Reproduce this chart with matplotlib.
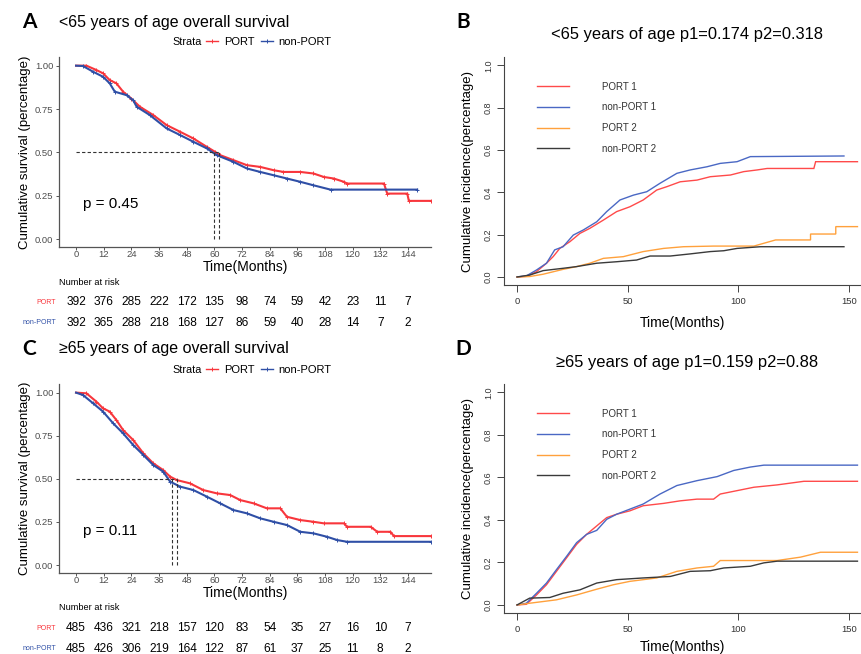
import numpy as np
import matplotlib.pyplot as plt
from matplotlib.lines import Line2D

plt.rcParams['font.family'] = ['Liberation Sans', 'DejaVu Sans']

# ---- panel A: <65 overall survival (Kaplan-Meier) ----
a_port_t = [0, 4.5, 8.8, 11.7, 14.6, 17.5, 20.4, 24, 27.7, 33.5, 39.3, 45.1, 50.9, 56.7, 60.3, 62.5,
            68.3, 74.1, 79.9, 85.7, 90, 97.3, 103, 107.5, 111.8, 116.2, 117.6, 133.6, 135, 143.7, 144.4, 154]
a_port_s = [1.0, 1.0, 0.975, 0.956, 0.917, 0.898, 0.85, 0.81, 0.763, 0.715, 0.657, 0.619, 0.58, 0.532, 0.503, 0.484,
            0.455, 0.426, 0.416, 0.397, 0.387, 0.387, 0.378, 0.358, 0.349, 0.33, 0.32, 0.32, 0.262, 0.262, 0.22, 0.22]
a_non_t = [0, 3, 7.4, 11.7, 14.6, 16.8, 21.9, 24.8, 26.3, 32, 39.3, 45.1, 50.9, 56.7, 61, 68.3,
           74.1, 79.9, 85.7, 91.5, 97.3, 103, 110.4, 148]
a_non_s = [1.0, 0.998, 0.965, 0.936, 0.898, 0.85, 0.83, 0.80, 0.763, 0.715, 0.638, 0.6, 0.561, 0.523, 0.484, 0.445,
           0.407, 0.387, 0.368, 0.349, 0.33, 0.31, 0.285, 0.285]
a_medians = [60, 62]
a_pval = "p = 0.45"
a_risk_port = [392, 376, 285, 222, 172, 135, 98, 74, 59, 42, 23, 11, 7]
a_risk_non = [392, 365, 288, 218, 168, 127, 86, 59, 40, 28, 14, 7, 2]

# ---- panel C: >=65 overall survival ----
c_port_t = [0, 4.5, 8.8, 11.7, 14.6, 17.5, 20.4, 24.8, 29.2, 33.5, 37.8, 40.8, 43.7, 49.4, 55.2, 61,
            66.9, 71.2, 77, 82.8, 88.6, 91.5, 97.3, 103, 107.5, 116.2, 117.6, 127.8, 130.7, 136.4, 137.9, 154]
c_port_s = [1.0, 0.996, 0.948, 0.909, 0.89, 0.841, 0.783, 0.725, 0.648, 0.59, 0.551, 0.513, 0.493, 0.474, 0.435, 0.416,
            0.406, 0.377, 0.358, 0.329, 0.329, 0.28, 0.261, 0.251, 0.242, 0.242, 0.222, 0.222, 0.193, 0.193, 0.168, 0.168]
c_non_t = [0, 3, 7.4, 11.7, 16.1, 20.4, 24.8, 29.2, 33.5, 37.8, 40.8, 45.1, 50.9, 56.7, 62.5, 68.3,
           74.1, 79.9, 85.7, 91.5, 97.3, 103, 108.9, 113.3, 117.6, 154]
c_non_s = [1.0, 0.986, 0.938, 0.89, 0.822, 0.764, 0.696, 0.638, 0.58, 0.542, 0.484, 0.455, 0.435, 0.397, 0.358, 0.319,
           0.3, 0.271, 0.251, 0.232, 0.193, 0.184, 0.164, 0.145, 0.135, 0.135]
c_medians = [41.5, 44]
c_pval = "p = 0.11"
c_risk_port = [485, 436, 321, 218, 157, 120, 83, 54, 35, 27, 16, 10, 7]
c_risk_non = [485, 426, 306, 219, 164, 122, 87, 61, 37, 25, 11, 8, 2]

risk_times = [0, 12, 24, 36, 48, 60, 72, 84, 96, 108, 120, 132, 144]

# ---- panel B: <65 cumulative incidence ----
b_port1_t = [0, 4.2, 8.8, 13.3, 16.3, 19.3, 23.9, 28.4, 32.9, 39, 45, 51, 57, 63.1, 67.7, 73.7, 81.3,
             87.3, 96.4, 102.4, 108.5, 113, 134.1, 134.9, 153.8]
b_port1_v = [0, 0.003, 0.025, 0.065, 0.096, 0.135, 0.167, 0.206, 0.23, 0.269, 0.309, 0.332, 0.364, 0.411, 0.427,
             0.45, 0.458, 0.474, 0.482, 0.498, 0.506, 0.513, 0.513, 0.545, 0.545]
b_non1_t = [0, 4.2, 8.8, 13.3, 17, 20.8, 25.4, 29.9, 36, 40.5, 46.5, 52.6, 58.6, 64.6, 72.2, 78.2, 85.8,
            91.8, 99.4, 105.4, 147.7]
b_non1_v = [0, 0.005, 0.033, 0.065, 0.128, 0.143, 0.198, 0.222, 0.261, 0.309, 0.364, 0.387, 0.403, 0.443, 0.49,
            0.506, 0.521, 0.537, 0.545, 0.569, 0.572]
b_port2_t = [0, 5.7, 11.8, 20.8, 26.9, 32.9, 39, 48, 57, 66.2, 75.2, 88.8, 107, 116.8, 132.6, 132.6, 144, 144, 153.8]
b_port2_v = [0, 0.002, 0.013, 0.036, 0.049, 0.065, 0.088, 0.096, 0.12, 0.135, 0.143, 0.146, 0.146, 0.175, 0.175,
             0.203, 0.203, 0.238, 0.238]
b_non2_t = [0, 5.7, 11.8, 20.8, 26.9, 36, 45, 54, 60.1, 69.2, 78.2, 87.3, 93.4, 99.4, 110, 147.7]
b_non2_v = [0, 0.009, 0.03, 0.041, 0.049, 0.065, 0.072, 0.08, 0.099, 0.099, 0.109, 0.12, 0.124, 0.135, 0.143, 0.143]

# ---- panel D: >=65 cumulative incidence ----
d_port1_t = [0, 4.2, 8.8, 13.3, 17.8, 22.4, 26.9, 31.4, 36, 40.5, 45, 51, 57, 66.2, 73.7, 81.3, 88.8,
             91.8, 99.4, 107, 117.5, 129.6, 153.8]
d_port1_v = [0, 0.003, 0.047, 0.095, 0.158, 0.222, 0.285, 0.332, 0.372, 0.411, 0.427, 0.443, 0.467, 0.478, 0.49,
             0.498, 0.498, 0.522, 0.538, 0.554, 0.565, 0.582, 0.582]
d_non1_t = [0, 4.2, 8.8, 13.3, 17.8, 22.4, 26.9, 31.4, 36, 40.5, 45, 51, 57, 64.6, 72.2, 81.3, 90.4,
            97.9, 105.4, 111.5, 153.8]
d_non1_v = [0, 0.008, 0.055, 0.103, 0.166, 0.229, 0.293, 0.332, 0.351, 0.403, 0.427, 0.451, 0.475, 0.522, 0.562,
            0.585, 0.604, 0.633, 0.649, 0.658, 0.658]
d_port2_t = [0, 5.7, 17.8, 26.9, 36, 43.5, 51, 63.1, 72.2, 81.3, 88.8, 91.8, 117.5, 128.1, 137.1, 153.8]
d_port2_v = [0, 0.008, 0.024, 0.047, 0.074, 0.095, 0.111, 0.127, 0.158, 0.174, 0.182, 0.209, 0.209, 0.225, 0.248,
             0.248]
d_non2_t = [0, 5.7, 14.8, 20.8, 28.4, 36, 45, 57, 69.2, 78.2, 87.3, 93.4, 105.4, 111.5, 117.5, 153.8]
d_non2_v = [0, 0.032, 0.035, 0.055, 0.071, 0.103, 0.119, 0.127, 0.134, 0.158, 0.161, 0.174, 0.182, 0.198, 0.206,
            0.206]

RED = "#F8363C"
BLUE = "#2F4FA6"
CI_COLORS = ["#FF4A4A", "#4A68C4", "#FFA13C", "#3A3A3A"]
CI_LABELS = ["PORT 1", "non-PORT 1", "PORT 2", "non-PORT 2"]

W, H = 861, 654
fig = plt.figure(figsize=(W / 100, H / 100), dpi=100)


def px_axes(left, top, right, bottom):
    return fig.add_axes([left / W, 1 - bottom / H, (right - left) / W, (bottom - top) / H])


def fx(x):
    return x / W


def fy(y):
    return 1 - y / H


def km_panel(top, bottom, letter, title, port, non, medians, pval, risk_port, risk_non, legend_y, risk_y):
    ax = px_axes(59, top, 431, bottom)
    for (t, s), col in zip([port, non], [RED, BLUE]):
        ax.plot(t, s, color=col, lw=1.5, marker="+", ms=3.5, mew=0.7,
                markevery=slice(1, None), solid_joinstyle="miter")
    ax.plot([0, max(medians)], [0.5, 0.5], ls=(0, (3, 2)), color="#333333", lw=0.8)
    for m in medians:
        ax.plot([m, m], [0, 0.5], ls=(0, (3, 2)), color="#333333", lw=0.8)
    ax.set_xlim(-7.4, 154)
    ax.set_ylim(-0.046, 1.05)
    ax.set_xticks(risk_times)
    ax.set_yticks([0, 0.25, 0.5, 0.75, 1.0])
    ax.set_yticklabels(["0.00", "0.25", "0.50", "0.75", "1.00"])
    for sp in ["top", "right"]:
        ax.spines[sp].set_visible(False)
    for sp in ["left", "bottom"]:
        ax.spines[sp].set_color("#555555")
        ax.spines[sp].set_linewidth(0.9)
    ax.tick_params(labelsize=6.8, labelcolor="#4D4D4D", color="#555555", length=2.5, width=0.7, pad=1.5)
    ax.tick_params(axis="x", pad=0)
    ax.set_xlabel("Time(Months)", fontsize=10, labelpad=0.5)
    ax.set_ylabel("Cumulative survival (percentage)", fontsize=9.5, labelpad=3)
    ax.text(3, 0.2, pval, fontsize=11, va="center", ha="left")

    fig.text(fx(29), fy(top - 35), letter, fontsize=15, fontweight="bold", va="center", ha="center",
             family=["Lato", "DejaVu Sans"])
    fig.text(fx(59), fy(top - 35), title, fontsize=11.5, va="center", ha="left")
    fig.text(fx(172), fy(legend_y), "Strata", fontsize=7.8, va="center", ha="left")
    handles = [Line2D([], [], color=RED, lw=1, marker="+", ms=3.5, mew=0.7),
               Line2D([], [], color=BLUE, lw=1, marker="+", ms=3.5, mew=0.7)]
    fig.legend(handles, ["PORT", "non-PORT"], ncol=2, frameon=False, fontsize=8,
               loc="center left", bbox_to_anchor=(fx(206), fy(legend_y)), handlelength=1.1,
               handletextpad=0.5, columnspacing=0.6, borderpad=0, borderaxespad=0)

    fig.text(fx(59), fy(risk_y), "Number at risk", fontsize=6.7, va="center", ha="left")
    for rows, lab, col, dy in [(risk_port, "PORT", RED, 20), (risk_non, "non-PORT", BLUE, 41)]:
        fig.text(fx(56), fy(risk_y + dy), lab, fontsize=5, color=col, va="center", ha="right")
        for t, n in zip(risk_times, rows):
            xp = ax.transData.transform((t, 0))[0]
            fig.text(xp / W, fy(risk_y + dy), str(n), fontsize=8.6, va="center", ha="center")
    return ax


def ci_panel(top, bottom, letter, title, series, title_y, xlabelpad):
    ax = px_axes(504, top, 861, bottom)
    for (t, v), col, lab in zip(series, CI_COLORS, CI_LABELS):
        ax.plot(t, v, color=col, lw=1.0, label=lab, solid_joinstyle="miter")
    ax.set_xlim(-5.9, 155.4)
    ax.set_ylim(-0.038, 1.04)
    ax.set_xticks([0, 50, 100, 150])
    ax.set_yticks([0, 0.2, 0.4, 0.6, 0.8, 1.0])
    ax.set_yticklabels(["0.0", "0.2", "0.4", "0.6", "0.8", "1.0"], rotation=90, va="center")
    for sp in ["top", "right"]:
        ax.spines[sp].set_visible(False)
    for sp in ["left", "bottom"]:
        ax.spines[sp].set_color("#444444")
        ax.spines[sp].set_linewidth(0.8)
    ax.tick_params(axis="x", labelsize=6.8, labelcolor="#333333", color="#444444", length=5, width=0.7, pad=4)
    ax.tick_params(axis="y", labelsize=6.5, labelcolor="#333333", color="#444444", length=5, width=0.7, pad=3)
    ax.set_xlabel("Time(Months)", fontsize=10, labelpad=xlabelpad)
    ax.set_ylabel("Cumulative incidence(percentage)", fontsize=9.5, labelpad=7)
    ax.legend(loc="upper left", bbox_to_anchor=(24 / (861 - 504), 0.93), frameon=False,
              fontsize=7, handlelength=3.3, handletextpad=3.4, labelspacing=1.1, labelcolor="#333333")

    fig.text(fx(463), fy(top - 35), letter, fontsize=15, fontweight="bold", va="center", ha="center",
             family=["Lato", "DejaVu Sans"])
    fig.text(fx(687), fy(title_y), title, fontsize=11.9, va="center", ha="center")
    return ax


km_panel(57, 247, "A", "<65 years of age overall survival", (a_port_t, a_port_s), (a_non_t, a_non_s),
         a_medians, a_pval, a_risk_port, a_risk_non, 42, 282)
km_panel(384, 573, "C", "\u226565 years of age overall survival", (c_port_t, c_port_s), (c_non_t, c_non_s),
         c_medians, c_pval, c_risk_port, c_risk_non, 370, 608)

ci_panel(57, 285, "B", "<65 years of age p1=0.174 p2=0.318",
         [(b_port1_t, b_port1_v), (b_non1_t, b_non1_v), (b_port2_t, b_port2_v), (b_non2_t, b_non2_v)], 35, 7)
ci_panel(384, 613, "D", "\u226565 years of age p1=0.159 p2=0.88",
         [(d_port1_t, d_port1_v), (d_non1_t, d_non1_v), (d_port2_t, d_port2_v), (d_non2_t, d_non2_v)], 363, 4)

fig.savefig("out.png", dpi=100)
